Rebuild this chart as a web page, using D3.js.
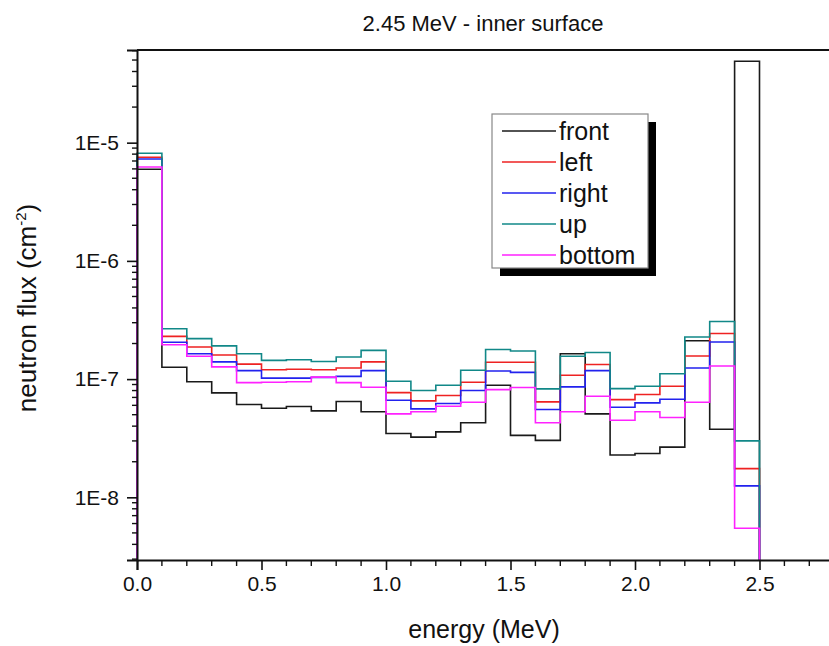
<!DOCTYPE html>
<html>
<head>
<meta charset="utf-8">
<script src="https://cdn.jsdelivr.net/npm/d3@7/dist/d3.min.js"></script>
<style>
  html, body { margin: 0; padding: 0; background: #fff; }
  svg { display: block; font-family: "Liberation Sans", Arial, sans-serif; }
</style>
</head>
<body>
<svg id="chart" width="829" height="646"></svg>
<script>
// ---- data ----
const binEdges = [0.0, 0.1, 0.2, 0.3, 0.4, 0.5, 0.6, 0.7, 0.8, 0.9, 1.0, 1.1, 1.2, 1.3, 1.4, 1.5, 1.6, 1.7, 1.8, 1.9, 2.0, 2.1, 2.2, 2.3, 2.4, 2.5];
const seriesNames = ["front", "left", "right", "up", "bottom"];
const seriesColors = ["#1a1a1a", "#ee2222", "#2222ee", "#118888", "#ff22ff"];

const front = [5.96e-6, 1.26e-7, 9.5e-8, 7.65e-8, 6.1e-8, 5.67e-8, 5.86e-8, 5.39e-8, 6.46e-8, 5.29e-8, 3.47e-8, 3.23e-8, 3.58e-8, 4.27e-8, 8.86e-8, 3.34e-8, 3.03e-8, 1.64e-7, 5.08e-8, 2.28e-8, 2.35e-8, 2.66e-8, 2.11e-7, 3.77e-8, 4.88e-5];
const left = [7.52e-6, 2.30e-7, 1.87e-7, 1.60e-7, 1.34e-7, 1.20e-7, 1.21e-7, 1.20e-7, 1.24e-7, 1.40e-7, 7.69e-8, 6.55e-8, 7.26e-8, 9.4e-8, 1.39e-7, 1.39e-7, 6.42e-8, 1.077e-7, 1.33e-7, 6.71e-8, 7.4e-8, 8.7e-8, 1.57e-7, 2.43e-7, 1.75e-8];
const right = [7.28e-6, 2.05e-7, 1.64e-7, 1.40e-7, 1.18e-7, 1.02e-7, 1.02e-7, 1.035e-7, 1.055e-7, 1.18e-7, 6.62e-8, 5.6e-8, 6.21e-8, 8.0e-8, 1.17e-7, 1.14e-7, 5.53e-8, 8.6e-8, 1.18e-7, 5.78e-8, 6.3e-8, 6.76e-8, 1.24e-7, 2.06e-7, 1.25e-8];
const up = [8.13e-6, 2.67e-7, 2.20e-7, 1.91e-7, 1.64e-7, 1.44e-7, 1.46e-7, 1.41e-7, 1.54e-7, 1.75e-7, 9.58e-8, 8.0e-8, 8.86e-8, 1.19e-7, 1.78e-7, 1.73e-7, 8.27e-8, 1.56e-7, 1.68e-7, 8.31e-8, 8.7e-8, 1.11e-7, 2.27e-7, 3.07e-7, 3.0e-8];
const bottom = [6.23e-6, 1.95e-7, 1.56e-7, 1.27e-7, 9.34e-8, 9.4e-8, 9.5e-8, 1.04e-7, 9.34e-8, 8.53e-8, 5.08e-8, 5.29e-8, 5.9e-8, 6.37e-8, 8.15e-8, 8.48e-8, 4.27e-8, 5.29e-8, 7.16e-8, 4.49e-8, 5.29e-8, 4.73e-8, 6.37e-8, 1.29e-7, 5.47e-9];

const xTickValues = [0.0, 0.5, 1.0, 1.5, 2.0, 2.5];
const xTickLabels = ["0.0", "0.5", "1.0", "1.5", "2.0", "2.5"];
const yTickValues = [1e-5, 1e-6, 1e-7, 1e-8];
const yTickLabels = ["1E-5", "1E-6", "1E-7", "1E-8"];

const titleText = "2.45 MeV - inner surface";
const xTitle = "energy (MeV)";

// ---- layout ----
const svg = d3.select("#chart");
const W = 829, H = 646;
const plotLeft = 137, plotTop = 50, plotBottom = 560;

const x = d3.scaleLinear().domain([0, 3]).range([plotLeft, plotLeft + 3 * 249.0]);
const y = d3.scaleLog().domain([2.95e-9, 6.08e-5]).range([plotBottom, plotTop]);

svg.append("rect").attr("width", W).attr("height", H).attr("fill", "#fff");

// ---- series (step histograms) ----
const allSeries = [front, left, right, up, bottom];
const yMin = y.domain()[0];
const line = d3.line()
  .x(d => x(d[0]))
  .y(d => y(d[1]))
  .curve(d3.curveStepAfter);

const seriesG = svg.append("g");
allSeries.forEach((vals, si) => {
  const pts = [[binEdges[0], yMin]];
  vals.forEach((v, i) => pts.push([binEdges[i], v]));
  pts.push([binEdges[binEdges.length - 1], vals[vals.length - 1]]);
  pts.push([binEdges[binEdges.length - 1], yMin]);
  seriesG.append("path")
    .attr("d", line(pts))
    .attr("fill", "none")
    .attr("stroke", seriesColors[si])
    .attr("stroke-width", 1.6);
});

// ---- axes ----
const axisColor = "#111";
const fontFam = "'Liberation Sans', Arial, sans-serif";
svg.append("line").attr("x1", plotLeft).attr("x2", W).attr("y1", plotTop).attr("y2", plotTop)
  .attr("stroke", axisColor).attr("stroke-width", 2);

const yAxis = d3.axisLeft(y)
  .tickValues(yTickValues)
  .tickFormat((d, i) => yTickLabels[i])
  .tickSize(10).tickPadding(8);
const yG = svg.append("g").attr("transform", `translate(${plotLeft},0)`).call(yAxis);
yG.select(".domain").attr("stroke", axisColor).attr("stroke-width", 2);
yG.selectAll(".tick line").attr("stroke", axisColor).attr("stroke-width", 1.6);
yG.selectAll(".tick text").attr("font-size", 21).attr("fill", "#111").attr("font-family", fontFam);

const yMinor = [];
[1e-9, 1e-8, 1e-7, 1e-6, 1e-5].forEach(dec => {
  for (let m = 2; m <= 9; m++) {
    const v = dec * m;
    if (v >= y.domain()[0] && v <= y.domain()[1]) yMinor.push(v);
  }
});
svg.append("g").selectAll("line").data(yMinor).join("line")
  .attr("x1", plotLeft - 5).attr("x2", plotLeft)
  .attr("y1", d => y(d)).attr("y2", d => y(d))
  .attr("stroke", axisColor).attr("stroke-width", 1.4);

const xAxis = d3.axisBottom(x)
  .tickValues(xTickValues)
  .tickFormat((d, i) => xTickLabels[i])
  .tickSize(10).tickPadding(6);
const xG = svg.append("g").attr("transform", `translate(0,${plotBottom})`).call(xAxis);
xG.select(".domain").attr("stroke", axisColor).attr("stroke-width", 2);
xG.selectAll(".tick line").attr("stroke", axisColor).attr("stroke-width", 1.6);
xG.selectAll(".tick text").attr("font-size", 21).attr("fill", "#111").attr("font-family", fontFam);

const xMinor = [];
for (let k = 1; k <= 30; k++) { if (k % 5 !== 0) xMinor.push(k / 10); }
svg.append("g").selectAll("line").data(xMinor).join("line")
  .attr("x1", d => x(d)).attr("x2", d => x(d))
  .attr("y1", plotBottom).attr("y2", plotBottom + 6)
  .attr("stroke", axisColor).attr("stroke-width", 1.4);

// ---- titles ----
svg.append("text").attr("x", 483).attr("y", 31).attr("text-anchor", "middle")
  .attr("font-size", 22).attr("fill", "#111").text(titleText);

svg.append("text").attr("x", 484).attr("y", 638).attr("text-anchor", "middle")
  .attr("font-size", 25).attr("fill", "#111").text(xTitle);

const yt = svg.append("text")
  .attr("transform", "translate(36,308) rotate(-90)")
  .attr("text-anchor", "middle").attr("font-size", 26).attr("fill", "#111");
yt.append("tspan").text("neutron flux (cm");
yt.append("tspan").attr("font-size", 15).attr("dy", -10).text("-2");
yt.append("tspan").attr("dy", 10).text(")");

// ---- legend ----
const lg = svg.append("g");
const lgX = 492, lgY = 114, lgW = 156, lgH = 154;
lg.append("rect").attr("x", lgX + 8).attr("y", lgY + 8).attr("width", lgW).attr("height", lgH).attr("fill", "#000");
lg.append("rect").attr("x", lgX).attr("y", lgY).attr("width", lgW).attr("height", lgH)
  .attr("fill", "#fff").attr("stroke", "#888").attr("stroke-width", 1.2);
seriesNames.forEach((name, i) => {
  const ry = 131 + i * 31;
  lg.append("line").attr("x1", 502).attr("x2", 556).attr("y1", ry).attr("y2", ry)
    .attr("stroke", seriesColors[i]).attr("stroke-width", 1.4);
  lg.append("text").attr("x", 559).attr("y", ry).attr("dy", "0.35em")
    .attr("font-size", 25).attr("fill", "#111").text(name);
});
</script>
</body>
</html>
